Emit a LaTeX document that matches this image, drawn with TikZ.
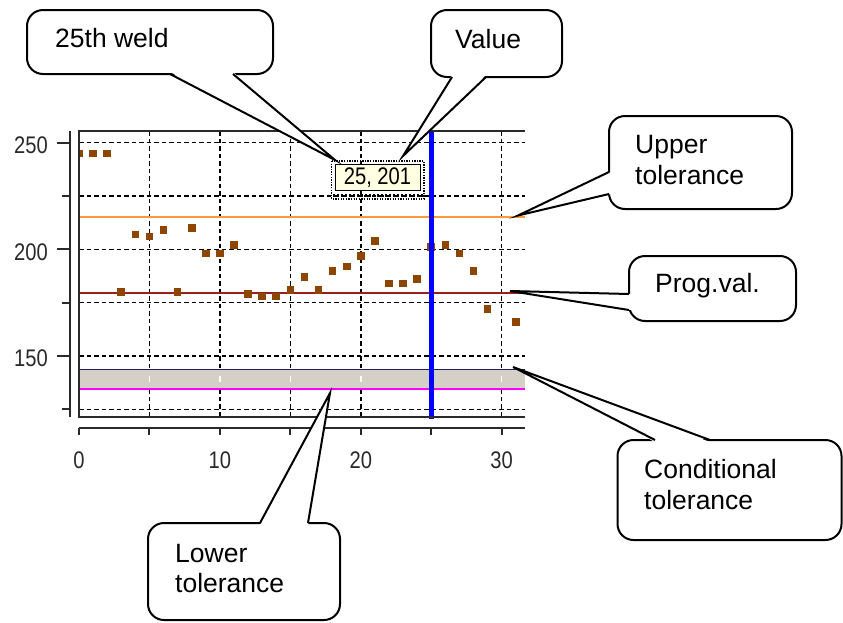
\documentclass[tikz,border=0pt]{standalone}
\usepackage{fontspec}
\setmainfont{Liberation Sans}
\newfontfamily\tickfont[FakeStretch=0.84]{Liberation Sans}
\usetikzlibrary{calc}

\definecolor{axisgray}{HTML}{2A2A2A}
\definecolor{uppertol}{HTML}{FF9A3C}
\definecolor{progval}{HTML}{9A1E1E}
\definecolor{condtol}{HTML}{1E1E6E}
\definecolor{lowertol}{HTML}{FF00FF}
\definecolor{bandgray}{HTML}{D4D0C8}
\definecolor{pointbrown}{HTML}{8C4600}
\definecolor{tipyellow}{HTML}{FFFFE1}

% draws the wedge of a callout: white fill over the box border, then the two legs
\newcommand\drawtail[5]{%
  \fill[white] ($(#1)+(#4,#5)$) -- (#2) -- ($(#3)+(#4,#5)$) -- cycle;
  \draw[tailline] (#1) -- (#2) -- (#3);
}

\begin{document}
\begin{tikzpicture}[x=1pt,y=-1pt,
  grid/.style={black, line width=1.4pt, dash pattern=on 4.5pt off 3pt},
  axisline/.style={axisgray, line width=2pt},
  ticklabel/.style={text=axisgray, inner sep=0pt, font=\tickfont\fontsize{24}{26}\selectfont},
  callbox/.style={draw=black, line width=2pt, fill=white, rounded corners=16pt, inner sep=0pt},
  calltext/.style={anchor=base west, inner sep=0pt, font=\fontsize{26.5}{30}\selectfont},
  tailline/.style={black, line width=2pt, line join=miter},
  datapt/.style={fill=pointbrown}
]
\useasboundingbox (0,0) rectangle (843,622);
\fill[white] (0,0) rectangle (843,622);

% ---------- chart ----------
% tolerance band
\fill[bandgray] (79,369.3) rectangle (525,389.3);

% dashed grid
\foreach \v in {250,225,...,125}
  \draw[grid] (79,{142.7+(250-\v)*2.1333}) -- (525,{142.7+(250-\v)*2.1333});
\foreach \i in {5,10,...,30}
  \draw[grid] ({79+\i*14.09},131) -- ({79+\i*14.09},369.3)
              ({79+\i*14.09},389.3) -- ({79+\i*14.09},417);
\foreach \i in {5,10,...,30}
  \draw[white, line width=1.4pt] ({79+\i*14.09},376) -- ({79+\i*14.09},382);

% limit lines
\draw[uppertol, line width=2.2pt] (79,217) -- (525,217);
\draw[progval, line width=2pt] (79,293.3) -- (525,293.3);
\draw[condtol, line width=1.6pt] (79,369.3) -- (525,369.3);
\draw[lowertol, line width=2pt] (79,389.3) -- (525,389.3);

% weld values
\begin{scope}
  \clip (79,131) rectangle (525,417);
  \foreach \i/\v in {0/245,1/245,2/245,3/180,4/207,5/206,6/209,7/180,8/210,
                     9/198,10/198,11/202,12/179,13/178,14/178,15/181,16/187,
                     17/181,18/190,19/192,20/197,21/204,22/184,23/184,24/186,
                     25/201,26/202,27/198,28/190,29/172,31/166}
    \fill[datapt] ({79+\i*14.09-3.8},{142.7+(250-\v)*2.1333-3.8}) rectangle +(7.6,7.6);
\end{scope}

% cursor line at weld 25
\draw[blue, line width=4.8pt] (431.3,131) -- (431.3,419);

% frame and axes
\draw[axisline] (525,131) -- (79,131) -- (79,417) -- (525,417);
\draw[axisline] (70,131) -- (70,417);
\draw[axisline] (79,428) -- (525,428);
\foreach \v in {250,200,150}
  \draw[axisline] (57,{142.7+(250-\v)*2.1333}) -- (70,{142.7+(250-\v)*2.1333});
\foreach \v in {225,175,125}
  \draw[axisline] (62,{142.7+(250-\v)*2.1333}) -- (70,{142.7+(250-\v)*2.1333});
\foreach \i in {0,5,...,30}
  \draw[axisline] ({79+\i*14.09},428) -- ({79+\i*14.09},435);

% tick labels
\node[ticklabel, anchor=east] (y250) at (48,145) {250};
\node[ticklabel, anchor=east] (y200) at (48,252) {200};
\node[ticklabel, anchor=east] (y150) at (48,358) {150};
\node[ticklabel] (x0) at (79,460) {0};
\node[ticklabel] (x10) at (219.9,460) {10};
\node[ticklabel] (x20) at (360.8,460) {20};
\node[ticklabel] (x30) at (501.7,460) {30};

% value tooltip
\draw[black, line width=1.3pt, dash pattern=on 1.3pt off 1.3pt] (331.7,161) rectangle (424,199);
\draw[black, line width=3pt, dash pattern=on 2pt off 2pt] (333,195.5) -- (423,195.5);
\node[draw=black, line width=1pt, fill=tipyellow, minimum width=85pt, minimum height=26pt,
      inner sep=0pt, font=\tickfont\fontsize{24}{26}\selectfont] (tooltip) at (377.5,177.4) {25, 201};

% ---------- callouts ----------
\node[callbox, minimum width=246pt, minimum height=64pt] (weldbox) at (150,42) {};
\coordinate (weldb1) at (170,74);
\coordinate (weldb2) at (233,74);
\coordinate (weldtip) at (335,160);
\drawtail{weldb1}{weldtip}{weldb2}{0}{-2}
\node[calltext] (weldtext) at (55,47) {25th weld};

\node[callbox, minimum width=131pt, minimum height=67pt] (valuebox) at (496.5,43.5) {};
\coordinate (valueb1) at (452,77);
\coordinate (valueb2) at (486,77);
\coordinate (valuetip) at (403,156);
\drawtail{valueb1}{valuetip}{valueb2}{0}{-2}
\node[calltext] (valuetext) at (455,48) {Value};

\node[callbox, minimum width=183pt, minimum height=93pt] (upperbox) at (700.5,162.5) {};
\coordinate (upperb1) at (609,172);
\coordinate (upperb2) at (609,194);
\coordinate (uppertip) at (518,215.5);
\drawtail{upperb1}{uppertip}{upperb2}{2}{0}
\node[calltext] (uppertext1) at (635,153.5) {Upper};
\node[calltext] (uppertext2) at (635,184.5) {tolerance};

\node[callbox, minimum width=167pt, minimum height=65pt] (progbox) at (712.5,288.5) {};
\coordinate (progb1) at (629,294);
\coordinate (progb2) at (629,310);
\coordinate (progtip) at (510,291);
\drawtail{progb1}{progtip}{progb2}{2}{0}
\node[calltext] (progtext) at (655,292.5) {Prog.val.};

\node[callbox, minimum width=224pt, minimum height=100pt] (condbox) at (729.5,490) {};
\coordinate (condb1) at (655,440);
\coordinate (condb2) at (710,440);
\coordinate (condtip) at (513,367);
\drawtail{condb1}{condtip}{condb2}{0}{2}
\node[calltext] (condtext1) at (644,478.3) {Conditional};
\node[calltext] (condtext2) at (644,509) {tolerance};

\node[callbox, minimum width=192pt, minimum height=97pt] (lowerbox) at (244,571.5) {};
\coordinate (lowerb1) at (260,523);
\coordinate (lowerb2) at (308,523);
\coordinate (lowertip) at (330,393);
\drawtail{lowerb1}{lowertip}{lowerb2}{0}{2}
\node[calltext] (lowertext1) at (175,562.3) {Lower};
\node[calltext] (lowertext2) at (175,592.7) {tolerance};
\end{tikzpicture}
\end{document}
